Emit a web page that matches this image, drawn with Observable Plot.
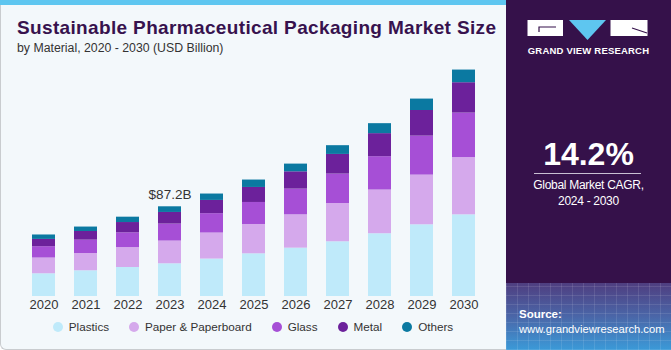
<!DOCTYPE html>
<html>
<head>
<meta charset="utf-8">
<script src="https://cdn.jsdelivr.net/npm/d3@7"></script>
<script src="https://cdn.jsdelivr.net/npm/@observablehq/plot@0.6"></script>
<style>
  body { margin: 0; background: #fff; }
  #root { position: relative; width: 671px; height: 350px; overflow: hidden; font-family: "Liberation Sans", Arial, sans-serif; }
  #left { position: absolute; left: 0; top: 0; width: 505px; height: 349px; background: #f3f8fb; border-left: 1px solid #c9cccf; border-bottom: 1px solid #c9cccf; border-bottom-left-radius: 6px; }
  #topbar { position: absolute; left: 0; top: 0; width: 506px; height: 5px; background: #5ec6f0; }
  #title { position: absolute; left: 17px; top: 17px; font-size: 19px; font-weight: bold; color: #37124e; white-space: nowrap; letter-spacing: 0.35px; }
  #subtitle { position: absolute; left: 17px; top: 41px; font-size: 12.3px; color: #333; white-space: nowrap; }
  #chart { position: absolute; left: 0; top: 60px; }
  #legend { position: absolute; left: 0; top: 320px; width: 506px; display: flex; justify-content: center; gap: 20px; font-size: 11.7px; color: #333; }
  #legend .item { display: flex; align-items: center; gap: 6px; }
  #legend .dot { width: 10px; height: 10px; border-radius: 50%; }
  #right { position: absolute; left: 506px; top: 0; width: 165px; height: 350px; background: #35114a; color: #fff; }
  #grad { position: absolute; left: 0; top: 283px; width: 165px; height: 67px;
    background:
      repeating-linear-gradient(90deg, rgba(255,255,255,0.10) 0 1px, transparent 1px 11px),
      repeating-linear-gradient(0deg, rgba(255,255,255,0.10) 0 1px, transparent 1px 9px),
      linear-gradient(180deg, #4f3e80 0%, #4a66a8 50%, #3b9ad8 100%); }
  .rt { position: absolute; white-space: nowrap; }
</style>
</head>
<body>
<div id="root">
  <div id="left"></div>
  <div id="topbar"></div>
  <div id="title">Sustainable Pharmaceutical Packaging Market Size</div>
  <div id="subtitle">by Material, 2020 - 2030 (USD Billion)</div>
  <div id="chart"></div>
  <div id="legend"></div>
  <div id="right">
    <svg class="rt" style="left:0;top:0" width="165" height="60">
      <rect x="21.5" y="20" width="35.5" height="16" fill="#fff"/>
      <path d="M33 32 L33 27 L50 27" stroke="#35114a" stroke-width="1.2" fill="none"/>
      <polygon points="63,20 100,20 81.5,40" fill="#5ec6f0"/>
      <rect x="104.5" y="20" width="37" height="16" fill="#fff"/>
      <path d="M126 28 L141 33" stroke="#35114a" stroke-width="1.2" fill="none"/>
    </svg>
    <div class="rt" style="left:0;width:165px;text-align:center;top:45px;font-size:9.5px;font-weight:bold;letter-spacing:0.2px;">GRAND VIEW RESEARCH</div>
    <div class="rt" style="left:0;width:165px;text-align:center;top:136px;font-size:32px;font-weight:bold;">14.2%</div>
    <div class="rt" style="left:28px;width:107px;top:173px;height:1px;background:#c9bfd3;"></div>
    <div class="rt" style="left:0;width:165px;text-align:center;top:178px;font-size:12px;letter-spacing:-0.3px;">Global Market CAGR,</div>
    <div class="rt" style="left:0;width:165px;text-align:center;top:194px;font-size:12px;letter-spacing:-0.3px;">2024 - 2030</div>
    <div id="grad"></div>
    <div class="rt" style="left:13px;top:308px;font-size:11.5px;font-weight:bold;">Source:</div>
    <div class="rt" style="left:13px;top:323px;font-size:11.2px;">www.grandviewresearch.com</div>
  </div>
</div>
<script>
const years = ["2020","2021","2022","2023","2024","2025","2026","2027","2028","2029","2030"];
const materials = ["Plastics","Paper & Paperboard","Glass","Metal","Others"];
const colors = ["#bfeafa","#d5a9ec","#a64fd6","#6c219b","#0b79a1"];
const plastics = [22.1, 25.0, 28.2, 31.8, 36.4, 41.5, 47.0, 53.2, 61.0, 69.7, 79.4];
const paper    = [15.3, 16.8, 19.4, 22.1, 25.3, 28.5, 32.4, 37.2, 42.5, 48.3, 55.7];
const glass    = [11.0, 13.0, 14.3, 16.5, 18.8, 21.4, 25.0, 28.6, 32.4, 37.9, 43.2];
const metal    = [7.1, 8.4, 10.0, 11.3, 12.9, 14.6, 16.8, 19.1, 22.4, 24.9, 29.5];
const others   = [4.3, 4.3, 5.2, 5.5, 6.2, 7.2, 7.5, 8.5, 9.7, 11.1, 12.3];
const annotations = [{year: "2023", label: "$87.2B"}];

const series = [plastics, paper, glass, metal, others];
const data = [];
materials.forEach((m, i) => years.forEach((y, j) => data.push({year: y, material: m, value: series[i][j]})));
const totals = years.map((y, j) => ({year: y, total: d3.sum(series, s => s[j])}));
const annData = annotations.map(a => ({...a, total: totals.find(t => t.year === a.year).total}));

const chart = Plot.plot({
  width: 506,
  height: 256,
  marginLeft: 12.5,
  marginRight: 11.8,
  marginTop: 0,
  marginBottom: 20,
  style: {background: "transparent", fontFamily: "'Liberation Sans', Arial, sans-serif", fontSize: "13px", color: "#333"},
  x: {domain: years, padding: 0.45, label: null},
  y: {domain: [0, 229.4], axis: null},
  color: {domain: materials, range: colors},
  marks: [
    Plot.barY(data, {x: "year", y: "value", fill: "material", order: null}),
    Plot.axisX({tickSize: 0, tickPadding: 3, fontSize: 13, label: null}),
    Plot.text(annData, {x: "year", y: "total", text: "label", lineAnchor: "bottom", dy: -8, fontSize: 13.5, fill: "#333"})
  ]
});
document.getElementById("chart").appendChild(chart);

const legend = document.getElementById("legend");
materials.forEach((m, i) => {
  const item = document.createElement("div");
  item.className = "item";
  item.innerHTML = `<span class="dot" style="background:${colors[i]}"></span><span>${m}</span>`;
  legend.appendChild(item);
});
</script>
</body>
</html>
